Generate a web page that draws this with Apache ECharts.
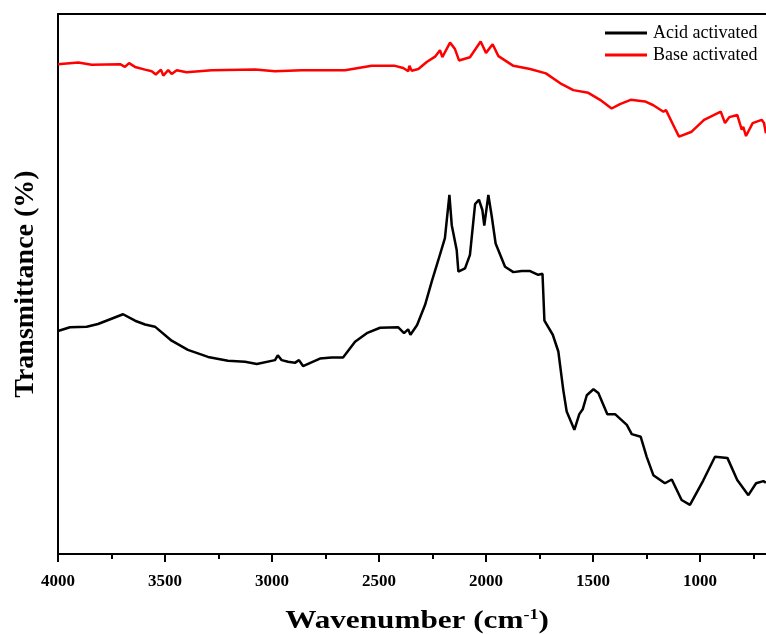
<!DOCTYPE html>
<html>
<head>
<meta charset="utf-8">
<script src="https://cdn.jsdelivr.net/npm/echarts@6/dist/echarts.min.js"></script>
<style>
  html, body { margin: 0; padding: 0; background: #fff; }
  #container { width: 766px; height: 634px; }
</style>
</head>
<body>
<div id="container"></div>
<script>
var seriesNames = ['Acid activated', 'Base activated'];
var xTicks = [4000, 3500, 3000, 2500, 2000, 1500, 1000, 500];

var acidWave = [4000, 3944, 3866, 3813, 3696, 3640, 3593, 3547, 3469, 3393, 3299, 3206, 3126, 3071,
  2986, 2973, 2955, 2925, 2893, 2874, 2855, 2776, 2721, 2668, 2612, 2557, 2495, 2411, 2383, 2364,
  2353, 2322, 2285, 2254, 2223, 2192, 2171, 2160, 2137, 2129, 2098, 2075, 2051, 2033, 2017, 2008,
  1989, 1973, 1955, 1911, 1872, 1833, 1794, 1756, 1736, 1727, 1688, 1662, 1639, 1623, 1587, 1564,
  1548, 1529, 1498, 1475, 1433, 1397, 1342, 1319, 1277, 1249, 1218, 1164, 1132, 1086, 1047, 985,
  930, 872, 826, 774, 738, 704, 692];
var acidT = [41.3, 42.0, 42.1, 42.6, 44.4, 43.2, 42.5, 42.1, 39.5, 37.8, 36.5, 35.8, 35.6, 35.2,
  35.9, 36.8, 35.9, 35.6, 35.4, 35.9, 34.8, 36.2, 36.4, 36.4, 39.3, 40.9, 41.9, 42.0, 40.9, 41.6,
  40.6, 42.4, 46.1, 50.4, 54.4, 58.5, 66.5, 60.9, 56.3, 52.3, 52.9, 55.4, 64.8, 65.6, 63.7, 60.8,
  66.5, 62.5, 57.5, 53.2, 52.2, 52.4, 52.4, 51.7, 51.9, 43.2, 40.6, 37.5, 30.4, 26.4, 23.0, 25.9,
  26.8, 29.4, 30.5, 29.8, 25.9, 25.9, 23.9, 22.2, 21.7, 18.0, 14.6, 13.1, 13.8, 10.0, 9.1, 13.6,
  18.0, 17.8, 13.7, 10.9, 13.1, 13.5, 13.2];

var baseWave = [4000, 3905, 3843, 3710, 3687, 3668, 3640, 3593, 3562, 3543, 3519, 3508, 3485, 3469,
  3445, 3399, 3282, 3079, 2986, 2861, 2659, 2534, 2425, 2387, 2363, 2358, 2347, 2316, 2277, 2238,
  2215, 2204, 2168, 2145, 2126, 2075, 2025, 2000, 1969, 1942, 1872, 1794, 1720, 1646, 1592, 1522,
  1467, 1413, 1374, 1324, 1257, 1218, 1171, 1159, 1117, 1098, 1039, 981, 903, 883, 863, 826, 805,
  798, 785, 754, 712, 701, 692];
var baseT = [90.7, 91.0, 90.6, 90.7, 90.2, 90.9, 90.2, 89.7, 89.4, 88.8, 89.7, 88.6, 89.6, 88.9,
  89.6, 89.2, 89.6, 89.7, 89.4, 89.6, 89.6, 90.4, 90.4, 90.0, 89.4, 90.4, 89.5, 89.8, 91.1, 92.1,
  93.3, 92.0, 94.7, 93.5, 91.4, 92.0, 94.9, 92.8, 94.4, 92.2, 90.4, 89.8, 89.0, 87.0, 85.9, 85.4,
  84.1, 82.5, 83.3, 84.1, 83.8, 83.1, 81.9, 82.2, 78.8, 77.3, 78.2, 80.4, 81.9, 79.8, 80.9, 81.3, 78.6,
  79.1, 77.4, 79.8, 80.4, 79.8, 77.9];

function pairs(xs, ys) {
  return xs.map(function (x, i) { return [x, ys[i]]; });
}

var dom = document.getElementById('container');
var myChart = echarts.init(dom);

var option = {
  backgroundColor: '#fff',
  animation: false,
  grid: { left: 58, top: 14, width: 749, height: 540, outerBoundsMode: 'none', containLabel: false },
  legend: {
    orient: 'vertical',
    left: 605,
    top: 24,
    padding: 0,
    icon: 'rect',
    itemWidth: 42,
    itemHeight: 3,
    itemGap: 4,
    data: seriesNames,
    textStyle: { fontFamily: 'Liberation Serif', fontSize: 18, lineHeight: 18, color: '#000', padding: [0, 0, 0, 1] }
  },
  xAxis: [{
    type: 'value',
    inverse: true,
    min: 500,
    max: 4000,
    interval: 500,
    splitLine: { show: false },
    axisLine: { lineStyle: { color: '#000', width: 2 } },
    axisTick: { length: 8, lineStyle: { color: '#000', width: 2 } },
    minorTick: { show: true, splitNumber: 2, length: 5, lineStyle: { color: '#000', width: 2 } },
    axisLabel: {
      margin: 19,
      fontFamily: 'Liberation Serif',
      fontWeight: 'bold',
      fontSize: 17,
      color: '#000',
      formatter: function (v) { return xTicks.indexOf(v) >= 0 ? String(v) : ''; }
    }
  }, {
    type: 'value',
    position: 'top',
    inverse: true,
    min: 500,
    max: 4000,
    splitLine: { show: false },
    axisLine: { lineStyle: { color: '#000', width: 2 } },
    axisTick: { show: false },
    axisLabel: { show: false }
  }],
  yAxis: {
    type: 'value',
    min: 0,
    max: 100,
    splitLine: { show: false },
    axisLine: { show: true, lineStyle: { color: '#000', width: 2 } },
    axisTick: { show: false },
    axisLabel: { show: false }
  },
  graphic: [{
    type: 'text',
    x: 417,
    y: 621,
    scaleX: 1.2,
    style: {
      text: '{a|Wavenumber (cm}{s|-1}{a|)}',
      align: 'center',
      verticalAlign: 'middle',
      rich: {
        a: { fontFamily: 'Liberation Serif', fontWeight: 'bold', fontSize: 26, fill: '#000' },
        s: { fontFamily: 'Liberation Serif', fontWeight: 'bold', fontSize: 15, fill: '#000', verticalAlign: 'top', padding: [0, 0, 12, 0] }
      }
    }
  }, {
    type: 'text',
    x: 26,
    y: 284,
    rotation: Math.PI / 2,
    style: {
      text: 'Transmittance (%)',
      align: 'center',
      verticalAlign: 'middle',
      fontFamily: 'Liberation Serif',
      fontWeight: 'bold',
      fontSize: 28,
      fill: '#000'
    }
  }],
  series: [{
    name: seriesNames[0],
    type: 'line',
    symbol: 'none',
    color: '#000',
    lineStyle: { color: '#000', width: 2.5 },
    data: pairs(acidWave, acidT)
  }, {
    name: seriesNames[1],
    type: 'line',
    symbol: 'none',
    color: '#ff0000',
    lineStyle: { color: '#ff0000', width: 2.5 },
    data: pairs(baseWave, baseT)
  }]
};

myChart.setOption(option, true);
</script>
</body>
</html>
